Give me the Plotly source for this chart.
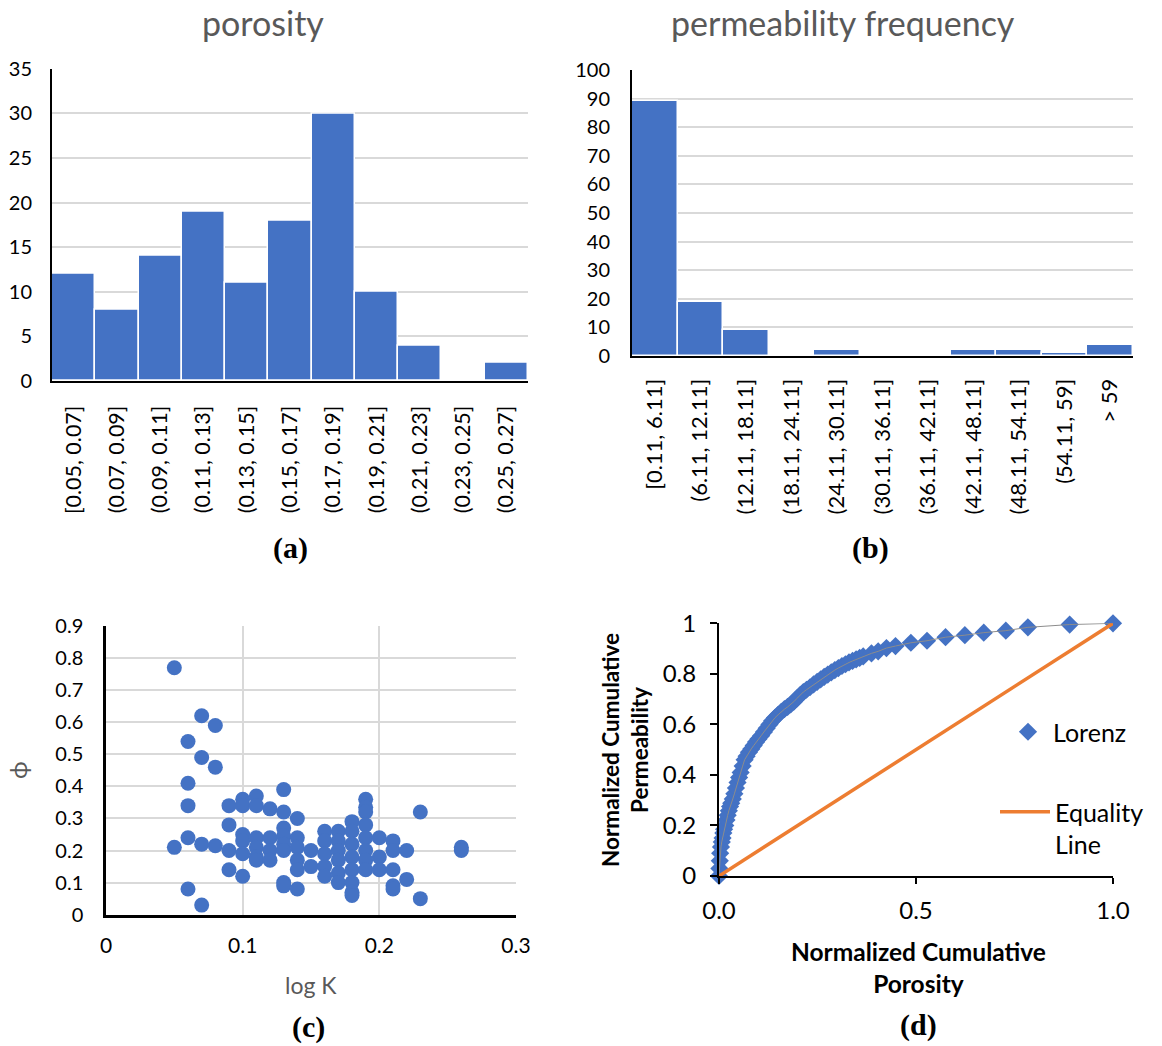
import plotly.graph_objects as go

W, H = 1162, 1046
BLUE = "#4472C4"
ORANGE = "#ED7D31"
GRID = "#D9D9D9"
GRAY = "#595959"
FONT = "Lato"

# ---------------- data ----------------
por_bins = ["[0.05, 0.07]", "(0.07, 0.09]", "(0.09, 0.11]", "(0.11, 0.13]", "(0.13, 0.15]",
            "(0.15, 0.17]", "(0.17, 0.19]", "(0.19, 0.21]", "(0.21, 0.23]", "(0.23, 0.25]",
            "(0.25, 0.27]"]
por_counts = [12, 8, 14, 19, 11, 18, 30, 10, 4, 0, 2]

perm_bins = ["[0.11, 6.11]", "(6.11, 12.11]", "(12.11, 18.11]", "(18.11, 24.11]", "(24.11, 30.11]",
             "(30.11, 36.11]", "(36.11, 42.11]", "(42.11, 48.11]", "(48.11, 54.11]", "(54.11, 59]",
             "> 59"]
perm_counts = [89, 19, 9, 0, 2, 0, 0, 2, 2, 1, 4]

scat_x = [0.05, 0.05,
          0.06, 0.06, 0.06, 0.06, 0.06,
          0.07, 0.07, 0.07, 0.07,
          0.08, 0.08, 0.08,
          0.09, 0.09, 0.09, 0.09,
          0.10, 0.10, 0.10, 0.10, 0.10, 0.10,
          0.11, 0.11, 0.11, 0.11, 0.11, 0.11,
          0.12, 0.12, 0.12, 0.12,
          0.13, 0.13, 0.13, 0.13, 0.13, 0.13, 0.13, 0.13,
          0.14, 0.14, 0.14, 0.14, 0.14, 0.14,
          0.15, 0.15,
          0.16, 0.16, 0.16, 0.16, 0.16,
          0.17, 0.17, 0.17, 0.17, 0.17, 0.17,
          0.18, 0.18, 0.18, 0.18, 0.18, 0.18, 0.18, 0.18,
          0.19, 0.19, 0.19, 0.19, 0.19, 0.19, 0.19, 0.19,
          0.20, 0.20, 0.20,
          0.21, 0.21, 0.21, 0.21, 0.21,
          0.22, 0.22,
          0.23, 0.23,
          0.26, 0.26]
scat_y = [0.77, 0.21,
          0.54, 0.41, 0.34, 0.24, 0.08,
          0.62, 0.49, 0.22, 0.03,
          0.59, 0.46, 0.215,
          0.34, 0.28, 0.20, 0.14,
          0.36, 0.34, 0.25, 0.23, 0.19, 0.12,
          0.37, 0.34, 0.24, 0.21, 0.18, 0.17,
          0.33, 0.24, 0.20, 0.17,
          0.39, 0.32, 0.27, 0.245, 0.22, 0.20, 0.10, 0.09,
          0.30, 0.24, 0.21, 0.17, 0.14, 0.08,
          0.20, 0.15,
          0.26, 0.23, 0.19, 0.15, 0.12,
          0.26, 0.23, 0.20, 0.17, 0.13, 0.10,
          0.29, 0.26, 0.22, 0.18, 0.14, 0.10, 0.07, 0.06,
          0.36, 0.335, 0.32, 0.28, 0.24, 0.20, 0.17, 0.14,
          0.24, 0.18, 0.14,
          0.23, 0.20, 0.14, 0.09, 0.08,
          0.20, 0.11,
          0.32, 0.05,
          0.21, 0.20]

lor_x = [0, 0.001, 0.002, 0.003, 0.005, 0.007, 0.009, 0.011, 0.013, 0.016, 0.019, 0.022,
         0.025, 0.028, 0.031, 0.035, 0.039, 0.043, 0.047, 0.051, 0.055, 0.060, 0.065, 0.070,
         0.076, 0.082, 0.088, 0.094, 0.100, 0.107, 0.114, 0.121, 0.128, 0.135, 0.142, 0.150,
         0.158, 0.166, 0.174, 0.182, 0.190, 0.198, 0.206, 0.214, 0.222, 0.231, 0.240, 0.249,
         0.258, 0.267, 0.276, 0.285, 0.294, 0.303, 0.312, 0.321, 0.330, 0.339, 0.348, 0.357,
         0.366, 0.387, 0.404, 0.425, 0.448, 0.487, 0.528, 0.575, 0.624, 0.672, 0.728, 0.784,
         0.890, 1.0]
lor_y = [0, 0.03, 0.06, 0.09, 0.115, 0.135, 0.15, 0.17, 0.185, 0.20, 0.222, 0.24,
         0.258, 0.275, 0.288, 0.305, 0.325, 0.348, 0.37, 0.39, 0.41, 0.435, 0.46, 0.474,
         0.49, 0.503, 0.516, 0.53, 0.542, 0.555, 0.57, 0.585, 0.60, 0.614, 0.626, 0.638,
         0.65, 0.66, 0.669, 0.679, 0.690, 0.703, 0.716, 0.728, 0.737, 0.747, 0.758, 0.768,
         0.778, 0.788, 0.797, 0.806, 0.815, 0.823, 0.831, 0.838, 0.845, 0.851, 0.857, 0.863,
         0.869, 0.881, 0.889, 0.902, 0.910, 0.923, 0.931, 0.945, 0.953, 0.963, 0.971, 0.984,
         0.995, 1.0]
eq_x = [0, 1]
eq_y = [0, 1]


def px(x):
    return x / W


def py(y):
    return 1 - y / H


fig = go.Figure()

fig.add_trace(go.Bar(x=por_bins, y=por_counts, marker=dict(color=BLUE, line=dict(color="white", width=1.5)),
                     xaxis="x", yaxis="y", showlegend=False))
fig.add_trace(go.Bar(x=perm_bins, y=perm_counts, marker=dict(color=BLUE, line=dict(color="white", width=1.5)),
                     xaxis="x2", yaxis="y2", showlegend=False))
fig.add_trace(go.Scatter(x=scat_x, y=scat_y, mode="markers", marker=dict(color=BLUE, size=15),
                         xaxis="x3", yaxis="y3", showlegend=False, cliponaxis=False))
fig.add_trace(go.Scatter(x=lor_x, y=lor_y, mode="markers", name="Lorenz",
                         marker=dict(color=BLUE, size=14, symbol="diamond"),
                         xaxis="x4", yaxis="y4", cliponaxis=False, legend="legend"))
fig.add_trace(go.Scatter(x=lor_x, y=lor_y, mode="lines", line=dict(color="#8C8C8C", width=1),
                         xaxis="x4", yaxis="y4", showlegend=False, cliponaxis=False))
fig.add_trace(go.Scatter(x=eq_x, y=eq_y, mode="lines", name="Equality<br>Line",
                         line=dict(color=ORANGE, width=3.5),
                         xaxis="x4", yaxis="y4", cliponaxis=False, legend="legend2"))


def tf(size):
    return dict(family=FONT, size=size, color="black")


common = dict(automargin=False, fixedrange=True)

fig.update_layout(
    template="none",
    width=W, height=H, margin=dict(l=0, r=0, t=0, b=0, pad=0, autoexpand=False),
    paper_bgcolor="white", plot_bgcolor="white",
    bargap=0,
    font=dict(family=FONT, color="black"),
    xaxis=dict(domain=[px(52), px(528)], type="category", tickangle=-90, tickfont=tf(21.5),
               showline=True, linecolor="black", linewidth=2, ticks="", ticklabelstandoff=14,
               range=[-0.5, 10.5], showgrid=False, anchor="y", **common),
    yaxis=dict(domain=[py(381), py(68.7)], range=[0, 35], dtick=5, tickfont=tf(20),
               showgrid=True, gridcolor=GRID, gridwidth=1.5, zeroline=False,
               showline=True, linecolor="black", linewidth=2, ticks="", ticklabelstandoff=14,
               anchor="x", **common),
    xaxis2=dict(domain=[px(632), px(1133)], type="category", tickangle=-90, tickfont=tf(22),
                showline=True, linecolor="black", linewidth=2, ticks="", ticklabelstandoff=12,
                range=[-0.5, 10.5], showgrid=False, anchor="y2", **common),
    yaxis2=dict(domain=[py(356), py(70)], range=[0, 100], dtick=10, tickfont=tf(20),
                showgrid=True, gridcolor=GRID, gridwidth=1.5, zeroline=False,
                showline=True, linecolor="black", linewidth=2, ticks="", ticklabelstandoff=16,
                anchor="x2", **common),
    xaxis3=dict(domain=[px(106), px(516)], range=[0, 0.3], dtick=0.1, tickfont=tf(21),
                showgrid=True, gridcolor=GRID, gridwidth=1.5, zeroline=False,
                showline=True, linecolor="black", linewidth=2.5, ticks="", ticklabelstandoff=10,
                anchor="y3", **common),
    yaxis3=dict(domain=[py(914.7), py(626)], range=[0, 0.9], dtick=0.1, tickfont=tf(20),
                showgrid=True, gridcolor=GRID, gridwidth=1.5, zeroline=False,
                showline=True, linecolor="black", linewidth=2.5, ticks="", ticklabelstandoff=16,
                anchor="x3", **common),
    xaxis4=dict(domain=[px(719), px(1113)], range=[0, 1], tickvals=[0, 0.5, 1], ticktext=["0.0", "0.5", "1.0"],
                tickfont=tf(24),
                showgrid=False, zeroline=False, showline=True, linecolor="black", linewidth=2,
                ticks="outside", ticklen=6, tickcolor="black", tickwidth=1.5, ticklabelstandoff=6,
                anchor="y4", **common),
    yaxis4=dict(domain=[py(876), py(623.3)], range=[0, 1], dtick=0.2,
                tickfont=tf(24),
                showgrid=False, zeroline=False, showline=True, linecolor="black", linewidth=2,
                ticks="outside", ticklen=7, tickcolor="black", tickwidth=1.5, ticklabelstandoff=9,
                anchor="x4", **common),
    legend=dict(x=px(1003), y=py(709), xanchor="left", yanchor="top", bgcolor="rgba(0,0,0,0)",
                font=dict(family=FONT, size=25, color="black"), itemwidth=40),
    legend2=dict(x=px(995), y=py(789), xanchor="left", yanchor="top", bgcolor="rgba(0,0,0,0)",
                 font=dict(family=FONT, size=25, color="black"), itemwidth=50, valign="top"),
)


def ann(text, x, y, size, color="black", family=FONT, angle=0, bold=False):
    fig.add_annotation(text=f"<b>{text}</b>" if bold else text, x=px(x), y=py(y), xref="paper", yref="paper",
                       showarrow=False, xanchor="center", yanchor="middle", textangle=angle,
                       font=dict(family=family, size=size, color=color), align="center")


ann("porosity", 263, 22, 34, GRAY)
ann("permeability frequency", 843, 22, 34, GRAY)
ann("(a)", 290, 548, 30, family="Liberation Serif", bold=True)
ann("(b)", 870, 548, 30, family="Liberation Serif", bold=True)
ann("(c)", 308, 1027, 30, family="Liberation Serif", bold=True)
ann("(d)", 918, 1025, 30, family="Liberation Serif", bold=True)
ann("log K", 311, 985, 23, GRAY)
ann("ϕ", 17, 770, 24, GRAY, angle=-90)
ann("Normalized Cumulative<br>Porosity", 918, 967, 24.5, bold=True)
ann("Normalized Cumulative<br>Permeability", 625, 750, 22.5, angle=-90, bold=True)

fig.write_html("out.html")
